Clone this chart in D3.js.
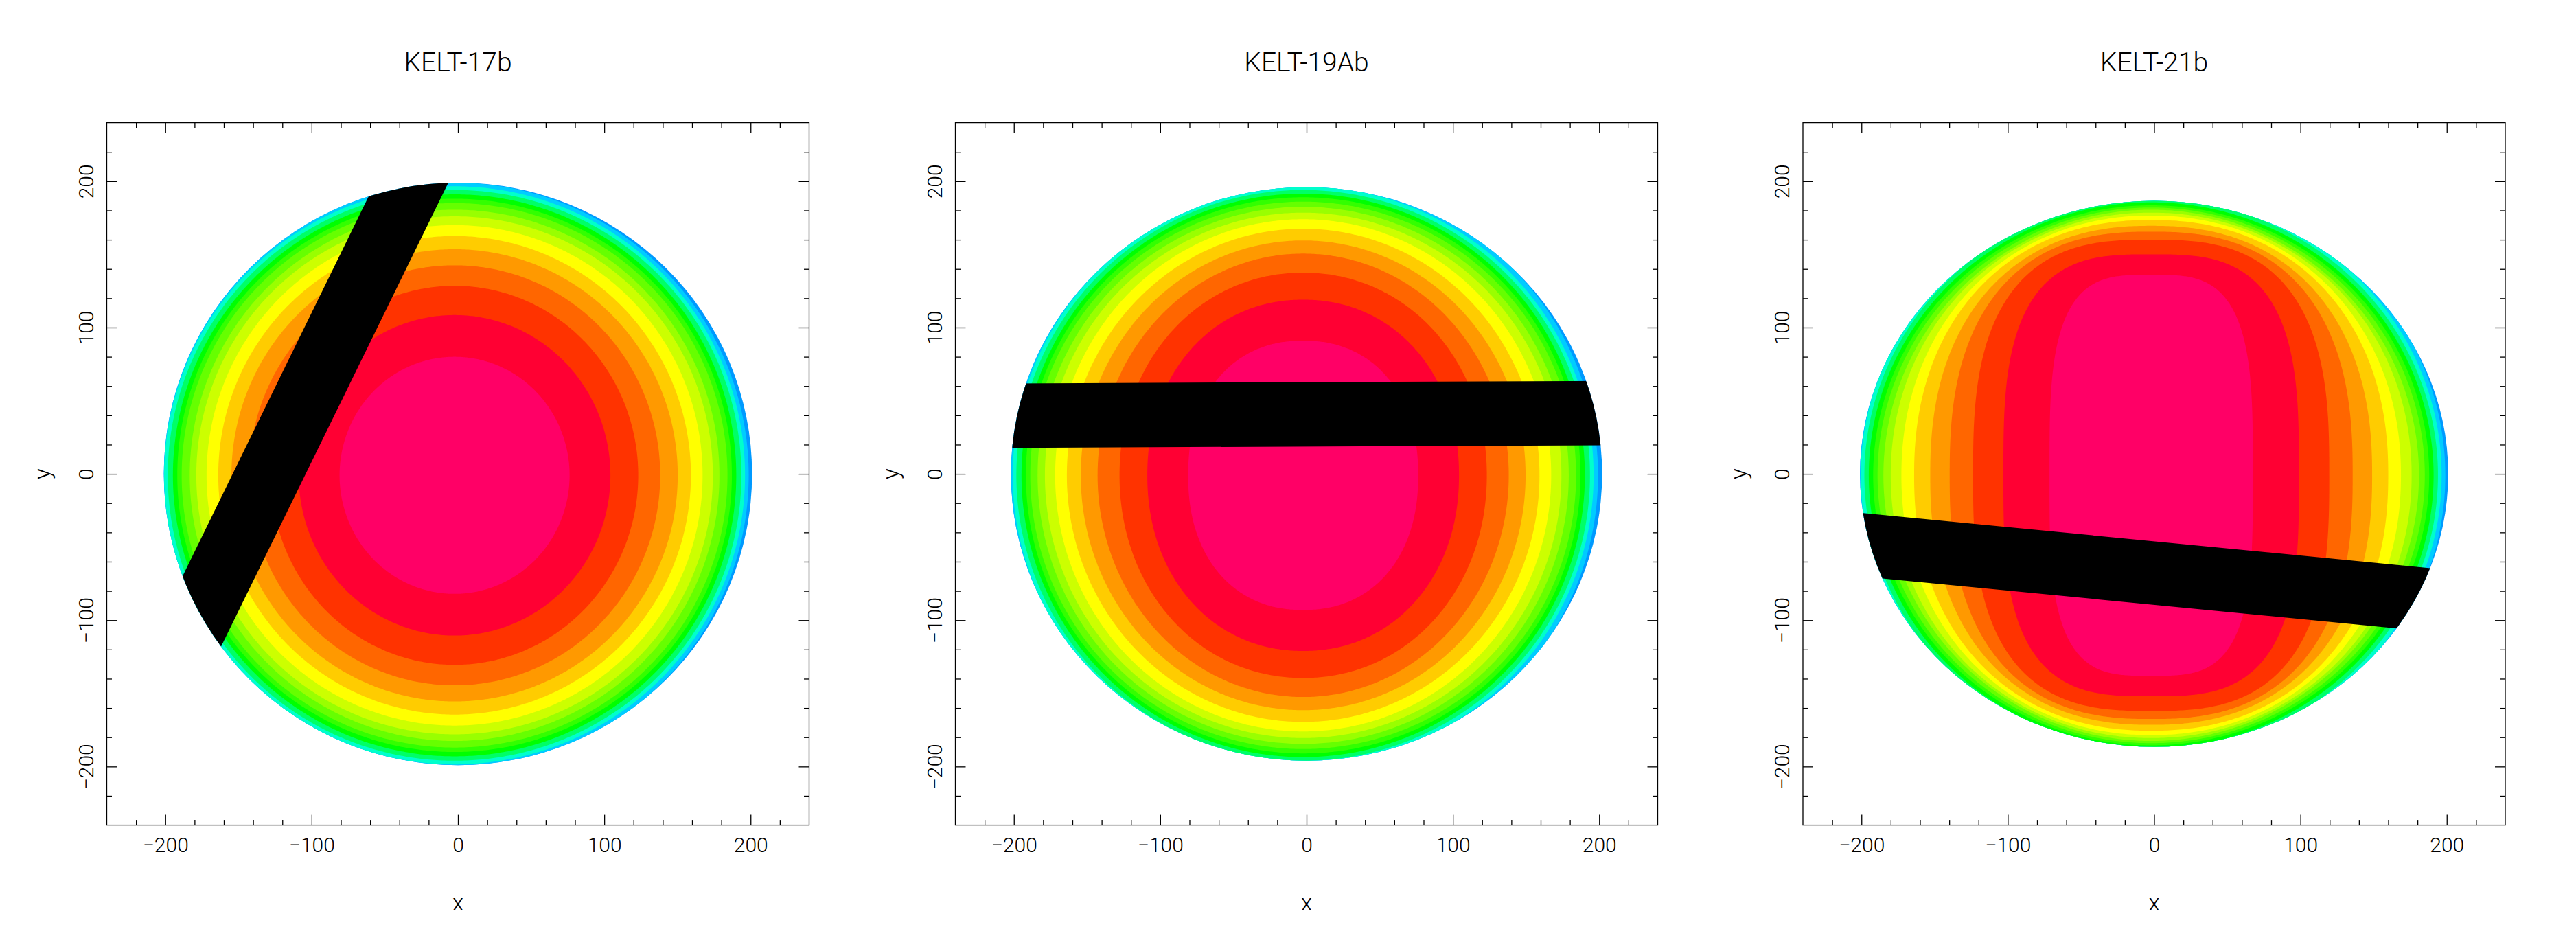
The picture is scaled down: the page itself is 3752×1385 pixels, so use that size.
<!DOCTYPE html>
<html>
<head>
<meta charset="utf-8">
<style>
body { margin: 0; background: #fff; }
text { font-family: Roboto, 'Liberation Sans', sans-serif; font-weight: 300; fill: #000; }
.axis .domain { display: none; }
.axis line { stroke: #000; stroke-width: 1.3; }
.frame { fill: none; stroke: #000; stroke-width: 1.3; }
</style>
</head>
<body>
<svg width="3752" height="1385"></svg>
<script src="https://d3js.org/d3.v7.min.js"></script>
<script>
// panel titles and axis ticks
var titles = ["KELT-17b", "KELT-19Ab", "KELT-21b"];
var majorTicks = [-200, -100, 0, 100, 200];
var minorTicks = [-220, -180, -160, -140, -120, -80, -60, -40, -20, 20, 40, 60, 80, 120, 140, 160, 180, 220];

// intensity levels, brightest (centre) to faintest (limb)
var bandColors = ["#ff0066", "#ff0033", "#ff3300", "#ff6600", "#ff9900", "#ffcc00", "#ffff00",
                  "#ccff00", "#99ff00", "#66ff00", "#33ff00", "#00ff00", "#00ff66", "#00ffcc", "#00ccff"];
var limbColor = "#0099ff";

// outer edge of each level: half-width (x), half-height (y), squareness
var k17Rx = [78.6, 106.5, 125.5, 140.5, 152.5, 161.5, 169.5, 176.5, 181, 186.5, 189.5, 192.5, 196, 198.5, 201];
var k17Ry = [81, 109.5, 129.5, 143.5, 154.5, 163.5, 171, 177, 181.5, 186, 189, 192, 195, 197.5, 200];
var k17N  = [2, 2, 2, 2, 2, 2, 2, 2, 2, 2, 2, 2, 2, 2, 2];

var k19Rx = [78.6, 106.5, 125.5, 140.5, 152, 161.5, 169.5, 176.5, 181.5, 186.5, 189.5, 192.5, 196, 198.5, 201.5];
var k19Ry = [92, 120, 138.5, 151.5, 160.5, 168.5, 175, 179.5, 183.5, 187, 190, 192.5, 195, 197.5, 201];
var k19N  = [2.2, 2.1, 2.05, 2, 2, 2, 2, 2, 2, 2, 2, 2, 2, 2, 2];

var k21Rx = [69.5, 101, 121.7, 137.7, 151, 162, 170.7, 178, 183, 187, 190, 193, 196, 198.5, 201];
var k21Ry = [137, 151, 161, 166.5, 170.5, 174.5, 177.5, 179.5, 181.5, 183, 184.5, 186.5, 189, 192, 196];
var k21N  = [3.4, 3.1, 2.8, 2.5, 2.3, 2.2, 2.1, 2.05, 2, 2, 2, 2, 2, 2, 2];

// centre of the level pattern
var bandCx = [-2.3, -2.3, -2];
var bandCy = [-1, -1, -1];

// stellar disc: half-width, half-height
var discRx = [201, 202, 201];
var discRy = [199, 196, 186.5];

// transit chord: start x, start y, end x, end y, planet radius
var chord17 = [-251.5, -250, -6.5, 250, 22.4];
var chord19 = [-250, 39.6, 250, 41.7, 22];
var chord21 = [-250, -43.55, 250, -92.05, 21.6];

var panels = [
  {title: titles[0], rx: k17Rx, ry: k17Ry, n: k17N, cx: bandCx[0], cy: bandCy[0], drx: discRx[0], dry: discRy[0], chord: chord17},
  {title: titles[1], rx: k19Rx, ry: k19Ry, n: k19N, cx: bandCx[1], cy: bandCy[1], drx: discRx[1], dry: discRy[1], chord: chord19},
  {title: titles[2], rx: k21Rx, ry: k21Ry, n: k21N, cx: bandCx[2], cy: bandCy[2], drx: discRx[2], dry: discRy[2], chord: chord21}
];

var svg = d3.select("svg");
svg.append("rect").attr("width", 3752).attr("height", 1385).attr("fill", "#fff");

var size = 1023,
    lefts = [155.5, 1391.5, 2626],
    plotTop = 178.6;

var x = d3.scaleLinear().domain([-240, 240]).range([0, size]);
var y = d3.scaleLinear().domain([-240, 240]).range([size, 0]);

var line = d3.line().curve(d3.curveLinearClosed);

function superellipse(cx, cy, a, b, n) {
  var pts = [];
  for (var i = 0; i < 720; i++) {
    var t = i / 720 * 2 * Math.PI,
        c = Math.cos(t), s = Math.sin(t);
    var px = cx + a * Math.sign(c) * Math.pow(Math.abs(c), 2 / n),
        py = cy + b * Math.sign(s) * Math.pow(Math.abs(s), 2 / n);
    pts.push([x(px), y(py)]);
  }
  return line(pts);
}

function fmt(d) { return d < 0 ? "\u2212" + (-d) : d; }

panels.forEach(function(p, i) {
  var g = svg.append("g").attr("transform", "translate(" + lefts[i] + "," + plotTop + ")");

  // clip to the stellar disc
  var clipId = "disc" + i;
  g.append("clipPath").attr("id", clipId)
    .append("ellipse")
      .attr("cx", x(0)).attr("cy", y(0))
      .attr("rx", x(p.drx) - x(0)).attr("ry", y(0) - y(p.dry));

  var disc = g.append("g").attr("clip-path", "url(#" + clipId + ")");

  disc.append("rect")
    .attr("width", size).attr("height", size)
    .attr("fill", limbColor);

  // levels from outside in
  var levels = d3.range(bandColors.length).reverse();
  disc.selectAll("path.band")
    .data(levels)
    .enter().append("path")
      .attr("class", "band")
      .attr("fill", function(k) { return bandColors[k]; })
      .attr("d", function(k) { return superellipse(p.cx, p.cy, p.rx[k], p.ry[k], p.n[k]); });

  // transit chord of the planet
  var c = p.chord,
      dx = c[2] - c[0], dy = c[3] - c[1],
      len = Math.sqrt(dx * dx + dy * dy),
      nx = -dy / len * c[4], ny = dx / len * c[4];
  disc.append("path")
    .attr("fill", "#000")
    .attr("d", line([
      [x(c[0] + nx), y(c[1] + ny)],
      [x(c[2] + nx), y(c[3] + ny)],
      [x(c[2] - nx), y(c[3] - ny)],
      [x(c[0] - nx), y(c[1] - ny)]
    ]));

  // frame
  g.append("rect").attr("class", "frame").attr("width", size).attr("height", size);

  // ticks on all four sides, pointing inward
  g.append("g").attr("class", "axis")
    .attr("transform", "translate(0," + size + ")")
    .call(d3.axisBottom(x).tickValues(majorTicks).tickSize(-15).tickPadding(18).tickFormat(fmt))
    .selectAll("text").attr("font-size", 30);
  g.append("g").attr("class", "axis")
    .attr("transform", "translate(0," + size + ")")
    .call(d3.axisBottom(x).tickValues(minorTicks).tickSize(-7.5).tickFormat(""));
  g.append("g").attr("class", "axis")
    .call(d3.axisTop(x).tickValues(majorTicks).tickSize(-15).tickFormat(""));
  g.append("g").attr("class", "axis")
    .call(d3.axisTop(x).tickValues(minorTicks).tickSize(-7.5).tickFormat(""));
  g.append("g").attr("class", "axis")
    .attr("transform", "translate(" + size + ",0)")
    .call(d3.axisRight(y).tickValues(majorTicks).tickSize(-15).tickFormat(""));
  g.append("g").attr("class", "axis")
    .attr("transform", "translate(" + size + ",0)")
    .call(d3.axisRight(y).tickValues(minorTicks).tickSize(-7.5).tickFormat(""));
  g.append("g").attr("class", "axis")
    .call(d3.axisLeft(y).tickValues(minorTicks).tickSize(-7.5).tickFormat(""));
  g.append("g").attr("class", "axis")
    .call(d3.axisLeft(y).tickValues(majorTicks).tickSize(-15).tickFormat(fmt))
    .selectAll("text")
      .attr("font-size", 30)
      .attr("x", null).attr("dy", null)
      .attr("text-anchor", "middle")
      .attr("transform", "translate(-20,0) rotate(-90)");

  // titles
  g.append("text")
    .attr("x", size / 2).attr("y", 104 - plotTop)
    .attr("text-anchor", "middle")
    .attr("font-size", 39)
    .text(p.title);

  g.append("text")
    .attr("x", size / 2).attr("y", 1326 - plotTop)
    .attr("text-anchor", "middle")
    .attr("font-size", 33)
    .text("x");

  g.append("text")
    .attr("transform", "translate(" + (73 - 155.5) + "," + y(0) + ") rotate(-90)")
    .attr("text-anchor", "middle")
    .attr("font-size", 33)
    .text("y");
});
</script>
</body>
</html>
